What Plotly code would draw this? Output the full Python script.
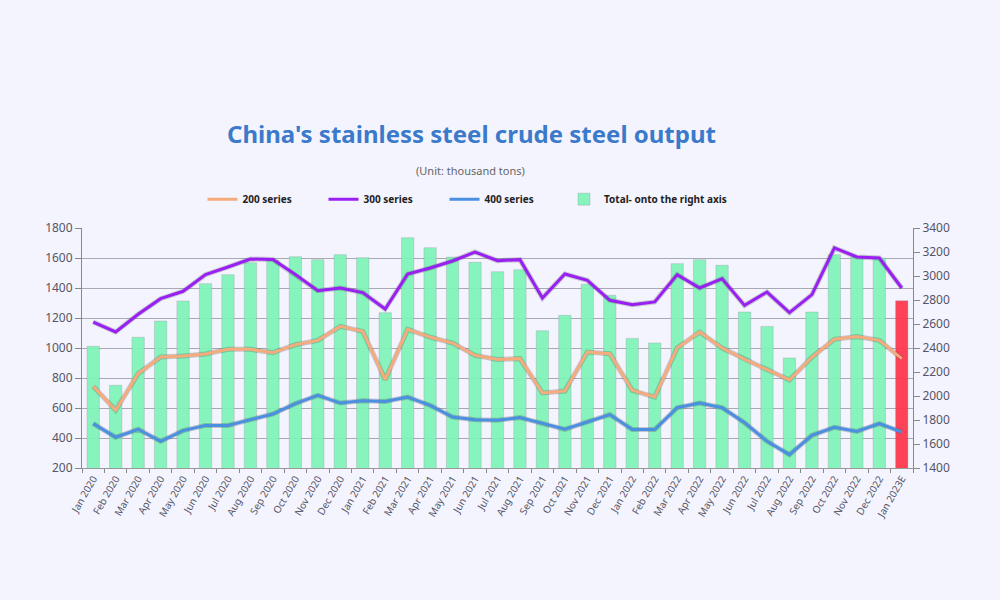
import plotly.graph_objects as go

months = ["Jan 2020", "Feb 2020", "Mar 2020", "Apr 2020", "May 2020", "Jun 2020",
          "Jul 2020", "Aug 2020", "Sep 2020", "Oct 2020", "Nov 2020", "Dec 2020",
          "Jan 2021", "Feb 2021", "Mar 2021", "Apr 2021", "May 2021", "Jun 2021",
          "Jul 2021", "Aug 2021", "Sep 2021", "Oct 2021", "Nov 2021", "Dec 2021",
          "Jan 2022", "Feb 2022", "Mar 2022", "Apr 2022", "May 2022", "Jun 2022",
          "Jul 2022", "Aug 2022", "Sep 2022", "Oct 2022", "Nov 2022", "Dec 2022",
          "Jan 2023E"]

series_200 = [744, 585, 829, 940, 947, 960, 991, 991, 969, 1022, 1051, 1144,
              1111, 789, 1124, 1073, 1033, 951, 924, 929, 700, 713, 973, 962,
              718, 673, 1000, 1107, 1000, 924, 856, 787, 940, 1058, 1076, 1051,
              929]

series_300 = [1173, 1107, 1225, 1329, 1378, 1489, 1540, 1593, 1590, 1490, 1382, 1400,
              1369, 1260, 1493, 1533, 1580, 1640, 1582, 1589, 1333, 1493, 1451, 1318,
              1289, 1307, 1489, 1400, 1462, 1284, 1373, 1236, 1356, 1667, 1607, 1600,
              1400]

series_400 = [496, 405, 458, 378, 449, 484, 484, 524, 560, 629, 684, 633,
              649, 644, 673, 618, 540, 522, 518, 536, 496, 458, 507, 556,
              456, 456, 602, 633, 602, 502, 378, 289, 418, 471, 444, 496,
              440]

total = [2414, 2089, 2489, 2625, 2792, 2936, 3011, 3111, 3131, 3161, 3136, 3178,
         3153, 2694, 3319, 3236, 3158, 3114, 3036, 3053, 2544, 2672, 2931, 2839,
         2480, 2442, 3103, 3136, 3089, 2700, 2580, 2317, 2700, 3178, 3158, 3150,
         2794]

left_ticks = [200, 400, 600, 800, 1000, 1200, 1400, 1600, 1800]
right_ticks = [1400, 1600, 1800, 2000, 2200, 2400, 2600, 2800, 3000, 3200, 3400]

bar_colors = ["#7ef3b8"] * (len(months) - 1) + ["#ff3349"]

fig = go.Figure()

fig.add_trace(go.Bar(
    x=months, y=total, name="Total- onto the right axis", yaxis="y",
    marker=dict(color=bar_colors, line=dict(color="rgba(150,150,160,0.35)", width=1)),
    opacity=0.92, width=0.55, legend="legend2",
))

line_specs = [
    ("200 series", series_200, "#f5ab7c", 1),
    ("300 series", series_300, "#9a1ff2", 2),
    ("400 series", series_400, "#4b8fe0", 3),
]
for name, vals, col, rank in line_specs:
    fig.add_trace(go.Scatter(
        x=months, y=vals, yaxis="y2", mode="lines", showlegend=False,
        line=dict(color="rgba(60,60,70,0.25)", width=5), hoverinfo="skip",
    ))
    fig.add_trace(go.Scatter(
        x=months, y=vals, name=name, yaxis="y2", mode="lines",
        line=dict(color=col, width=3), legendrank=rank,
    ))

tickfont = dict(family="Noto Sans, Open Sans, sans-serif", size=12, color="#555566")
legfont = dict(family="Noto Sans, sans-serif", size=10, color="#222", weight=700)

fig.update_layout(
    width=1000, height=600,
    paper_bgcolor="#f4f4fe", plot_bgcolor="#f4f4fe",
    margin=dict(l=82, r=87, t=228, b=132),
    font=dict(family="Noto Sans, sans-serif", color="#444"),
    bargap=0.45,
    showlegend=True,
    legend=dict(
        orientation="h", x=0.145, y=1.12, xanchor="left", yanchor="middle",
        font=legfont, entrywidth=76, entrywidthmode="pixels",
        bgcolor="rgba(0,0,0,0)", itemwidth=30,
    ),
    legend2=dict(
        orientation="h", x=0.580, y=1.12, xanchor="left", yanchor="middle",
        font=legfont, bgcolor="rgba(0,0,0,0)", itemwidth=30,
    ),
    xaxis=dict(
        type="category", tickson="boundaries", ticks="outside", ticklen=4,
        tickcolor="#888", tickangle=-60, showline=True, linecolor="#999",
        tickfont=dict(family="Noto Sans, sans-serif", size=10, color="#555566"),
        showgrid=False,
    ),
    yaxis=dict(
        side="right", range=[1400, 3400], tickvals=right_ticks, showgrid=False,
        showline=True, linecolor="#888", ticks="outside", ticklen=6, tickcolor="#888",
        tickfont=tickfont, zeroline=False,
    ),
    yaxis2=dict(
        side="left", overlaying="y", range=[200, 1800], tickvals=left_ticks,
        showgrid=True, gridcolor="#a9a9b6", gridwidth=1,
        showline=True, linecolor="#888", ticks="outside", ticklen=6, tickcolor="#888",
        tickfont=tickfont, zeroline=False,
    ),
)

plot_left, plot_w = 82, 1000 - 82 - 87
plot_top, plot_h = 228, 600 - 228 - 132


def px_to_paper(x_px, y_px):
    return (x_px - plot_left) / plot_w, 1 + (plot_top - y_px) / plot_h


tx, ty = px_to_paper(471, 133)
sx, sy = px_to_paper(470, 170)
fig.add_annotation(text="<b>China's stainless steel crude steel output</b>",
                   x=tx, y=ty, xref="paper", yref="paper", showarrow=False,
                   xanchor="center", yanchor="middle",
                   font=dict(family="Noto Sans, sans-serif", size=24, color="#3b7acb"))
fig.add_annotation(text="(Unit: thousand tons)",
                   x=sx, y=sy, xref="paper", yref="paper", showarrow=False,
                   xanchor="center", yanchor="middle",
                   font=dict(family="Noto Sans, sans-serif", size=11, color="#666"))

fig.write_html("out.html", config={"displayModeBar": False},
               post_script="document.body.style.margin='0';document.body.style.background='#f4f4fe';document.body.style.overflow='hidden';")
